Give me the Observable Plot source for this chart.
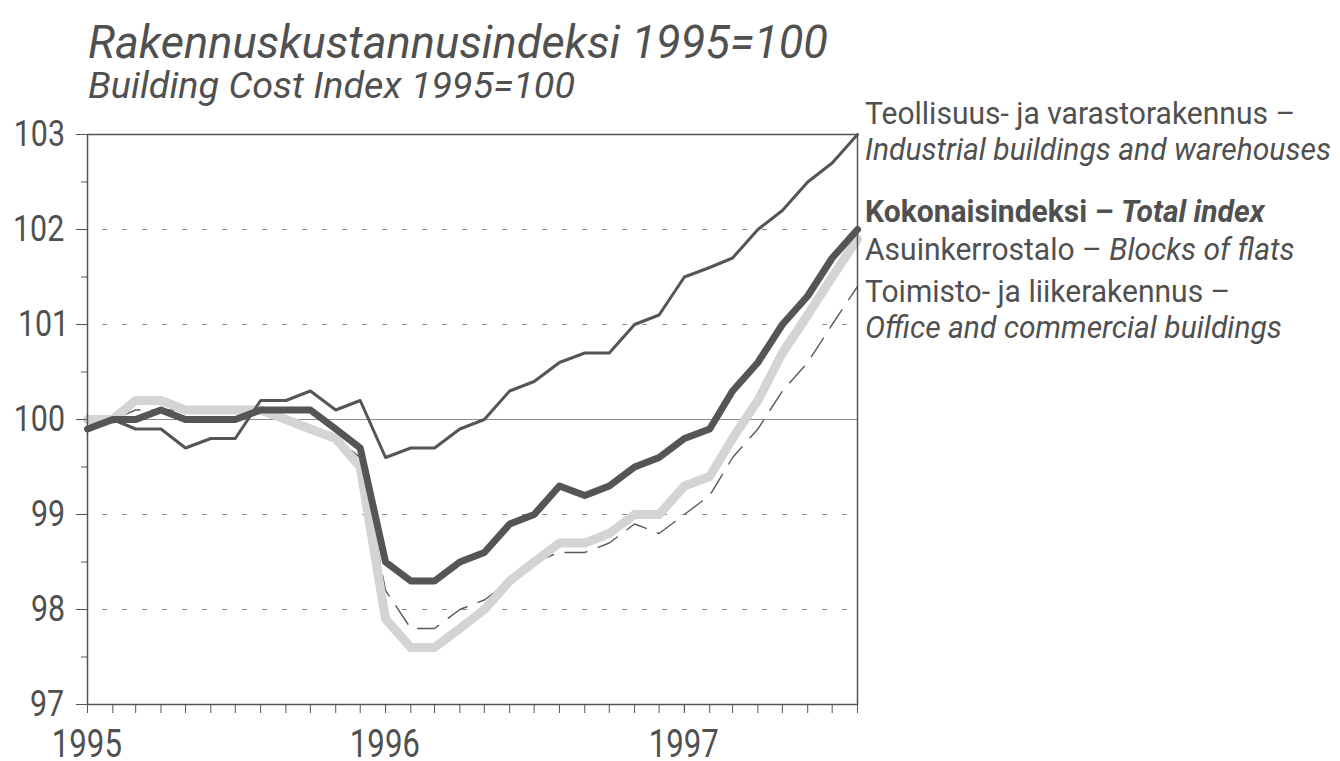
<!DOCTYPE html>
<html>
<head>
<meta charset="utf-8">
<script src="https://cdn.jsdelivr.net/npm/d3@7"></script>
<script src="https://cdn.jsdelivr.net/npm/@observablehq/plot@0.6"></script>
<style>
  html, body { margin: 0; padding: 0; background: #fff; }
  #wrap { position: relative; width: 1340px; height: 761px; overflow: hidden;
          font-family: Roboto, "Liberation Sans", sans-serif; color: #505050; }
  .t { position: absolute; white-space: nowrap; line-height: 1; }
  .t > span { display: inline-block; transform-origin: 0 0; }
  #title { left: 88px; top: 19px; font-size: 46px; font-style: italic; }
  #subtitle { left: 88px; top: 68px; font-size: 36px; font-style: italic; }
  #chart { position: absolute; left: 0; top: 110px; }
  .lab { left: 865px; font-size: 31px; }
</style>
</head>
<body>
<div id="wrap">
  <div class="t" id="title"><span data-w="740">Rakennuskustannusindeksi 1995=100</span></div>
  <div class="t" id="subtitle"><span data-w="487">Building Cost Index 1995=100</span></div>
  <div id="chart"></div>
  <div class="t lab" style="top:98px"><span class="ls" data-w="462">Teollisuus- ja varastorakennus –</span></div>
  <div class="t lab" style="top:134px"><span class="ls" data-w="468"><i>Industrial buildings and warehouses</i></span></div>
  <div class="t lab" style="top:196px"><span class="ls" data-w="395"><b>Kokonaisindeksi – <i>Total index</i></b></span></div>
  <div class="t lab" style="top:234px"><span class="ls" data-w="415">Asuinkerrostalo – <i>Blocks of flats</i></span></div>
  <div class="t lab" style="top:276px"><span class="ls" data-w="432">Toimisto- ja liikerakennus –</span></div>
  <div class="t lab" style="top:312px"><span class="ls" data-w="415"><i>Office and commercial buildings</i></span></div>
</div>
<script>
// Months (x categories)
const months = [
  "1995-01","1995-02","1995-03","1995-04","1995-05","1995-06","1995-07","1995-08","1995-09","1995-10","1995-11","1995-12",
  "1996-01","1996-02","1996-03","1996-04","1996-05","1996-06","1996-07","1996-08","1996-09","1996-10","1996-11","1996-12",
  "1997-01","1997-02","1997-03","1997-04","1997-05","1997-06","1997-07","1997-08"
];
// Series values
const industrial = [
  99.9,100.0,99.9,99.9,99.7,99.8,99.8,100.2,100.2,100.3,100.1,100.2,
  99.6,99.7,99.7,99.9,100.0,100.3,100.4,100.6,100.7,100.7,101.0,101.1,
  101.5,101.6,101.7,102.0,102.2,102.5,102.7,103.0
];
const total = [
  99.9,100.0,100.0,100.1,100.0,100.0,100.0,100.1,100.1,100.1,99.9,99.7,
  98.5,98.3,98.3,98.5,98.6,98.9,99.0,99.3,99.2,99.3,99.5,99.6,
  99.8,99.9,100.3,100.6,101.0,101.3,101.7,102.0
];
const flats = [
  100.0,100.0,100.2,100.2,100.1,100.1,100.1,100.1,100.0,99.9,99.8,99.5,
  97.9,97.6,97.6,97.8,98.0,98.3,98.5,98.7,98.7,98.8,99.0,99.0,
  99.3,99.4,99.8,100.2,100.7,101.1,101.5,101.9
];
const office = [
  99.9,100.0,100.1,100.1,100.1,100.1,100.1,100.1,100.0,99.9,99.8,99.6,
  98.2,97.8,97.8,98.0,98.1,98.3,98.5,98.6,98.6,98.7,98.9,98.8,
  99.0,99.2,99.6,99.9,100.3,100.6,101.0,101.4
];
// Tick labels
const yTicks = [97, 98, 99, 100, 101, 102, 103];
const yMinorTicks = [97.5, 98.5, 99.5, 100.5, 101.5, 102.5];
const gridValues = [98, 99, 101, 102];
const yearLabels = ["1995", "1996", "1997"];

const parseMonth = d3.utcParse("%Y-%m");
const dates = months.map(parseMonth);
const series = (vals) => dates.map((date, i) => ({date, value: vals[i]}));
const yearDates = yearLabels.map(y => parseMonth(y + "-01"));

const FONT = 'Roboto, "Liberation Sans", sans-serif';
const INK = "#555";

const chart = Plot.plot({
  width: 1340,
  height: 651,
  marginLeft: 87,
  marginRight: 483,
  marginTop: 24,
  marginBottom: 57,
  x: {type: "utc", domain: [dates[0], dates[dates.length - 1]]},
  y: {domain: [97, 103]},
  style: {fontFamily: FONT, color: "#505050", background: "transparent", overflow: "visible"},
  marks: [
    Plot.ruleY(gridValues, {stroke: "#8c8c8c", strokeWidth: 1, strokeDasharray: "5,15", strokeDashoffset: 5}),
    Plot.ruleY([100], {stroke: "#8c8c8c", strokeWidth: 1}),
    Plot.line(series(office), {x: "date", y: "value", stroke: "#5a5a5a", strokeWidth: 1.4, strokeDasharray: "22,12"}),
    Plot.line(series(flats), {x: "date", y: "value", stroke: "#d4d4d4", strokeWidth: 9}),
    Plot.line(series(industrial), {x: "date", y: "value", stroke: INK, strokeWidth: 3}),
    Plot.line(series(total), {x: "date", y: "value", stroke: INK, strokeWidth: 7}),
    Plot.frame({stroke: INK, strokeWidth: 1.5}),
    Plot.axisY({ticks: yMinorTicks, tickSize: 6, tickFormat: () => "", stroke: INK, label: null}),
    Plot.axisY({ticks: yTicks, tickSize: 11, tickPadding: 13, fontSize: 37, tickFormat: d => String(d), stroke: INK, label: null}),
    Plot.axisX({ticks: dates, tickSize: 9, tickFormat: () => "", stroke: INK, label: null}),
    Plot.axisX({ticks: yearDates, tickSize: 9, tickPadding: 17, fontSize: 38, tickFormat: d3.utcFormat("%Y"), stroke: INK, label: null})
  ]
});
document.getElementById("chart").appendChild(chart);

// Condense tick-label glyphs horizontally (the original uses a condensed typeface).
// Each label is re-anchored at its start so the condensed ink keeps its original centre / right edge.
const SQUEEZE = 0.82;
const ctx = document.createElement("canvas").getContext("2d");
chart.querySelectorAll('g[aria-label$="tick label"] text').forEach(t => {
  const txt = t.textContent;
  if (!txt) return;
  const w = t.getComputedTextLength();
  if (!(w > 0)) return;
  const cs = getComputedStyle(t);
  const anchor = cs.textAnchor;
  ctx.font = `${cs.fontStyle} ${cs.fontWeight} ${cs.fontSize} ${cs.fontFamily}`;
  const m = ctx.measureText(txt);
  const k = w / (m.width || w);
  const inkL = -m.actualBoundingBoxLeft * k, inkR = m.actualBoundingBoxRight * k;
  const L = w * SQUEEZE;
  const x0 = +(t.getAttribute("x") || 0);
  let start;
  if (anchor === "end") start = x0 - inkR * SQUEEZE;
  else if (anchor === "middle") start = x0 - ((inkL + inkR) / 2) * SQUEEZE;
  else start = x0;
  t.setAttribute("text-anchor", "start");
  t.style.textAnchor = "start";
  t.setAttribute("x", start.toFixed(1));
  t.setAttribute("textLength", L.toFixed(1));
  t.setAttribute("lengthAdjust", "spacingAndGlyphs");
});

// Condense HTML texts
document.querySelectorAll(".t > span[data-w]:not(.ls)").forEach(s => {
  const w = s.getBoundingClientRect().width;
  if (w > 0) s.style.transform = `scaleX(${+s.dataset.w / w})`;
});
// Side labels: one common scale for all lines
const ls = [...document.querySelectorAll("span.ls")];
const ratios = ls.map(s => +s.dataset.w / s.getBoundingClientRect().width).filter(r => isFinite(r) && r > 0);
const common = d3.median(ratios) || 1;
ls.forEach(s => { s.style.transform = `scaleX(${common})`; });
</script>
</body>
</html>
